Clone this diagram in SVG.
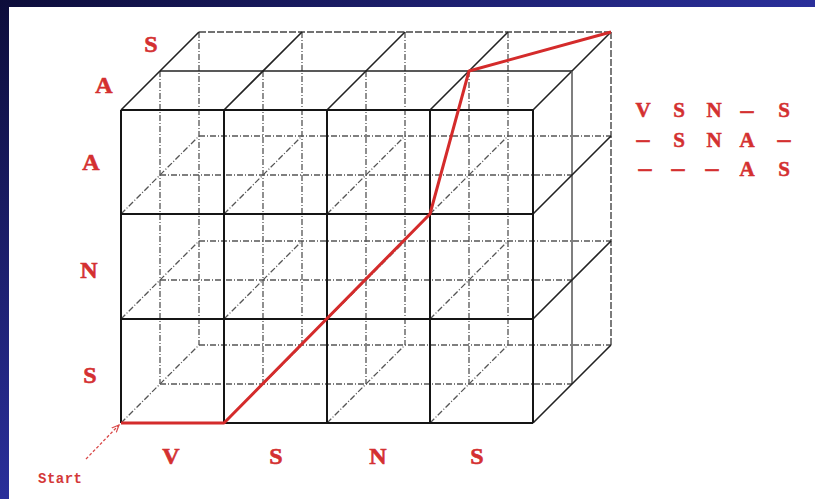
<svg xmlns="http://www.w3.org/2000/svg" width="815" height="499" viewBox="0 0 815 499">
  <defs>
    <linearGradient id="bg" x1="0" y1="0" x2="1" y2="1">
      <stop offset="0" stop-color="#0d0d3a"/>
      <stop offset="0.5" stop-color="#2a2f9a"/>
      <stop offset="1" stop-color="#4a50d8"/>
    </linearGradient>
    <marker id="arr" viewBox="0 0 10 10" refX="9" refY="5" markerWidth="8" markerHeight="8" orient="auto" markerUnits="userSpaceOnUse">
      <path d="M0,1 L9,5 L0,9" fill="none" stroke="#d94848" stroke-width="1.5"/>
    </marker>
    <style>
      .front { stroke: #151515; stroke-width: 2; fill: none; }
      .edge { stroke: #222; stroke-width: 1.6; fill: none; }
      .edge2 { stroke: #555; stroke-width: 1.5; fill: none; }
      .back { stroke: #444; stroke-width: 1.4; fill: none; stroke-dasharray: 7 2; }
      .hid { stroke: #555; stroke-width: 1.3; fill: none; stroke-dasharray: 6 2 1 2; }
      .path { stroke: #d42b2b; stroke-width: 3; fill: none; stroke-linejoin: round; }
      .lbl { font-family: "Liberation Serif", "Times New Roman", serif; font-weight: bold; font-size: 24px; fill: #d43030; text-anchor: middle; stroke: #d43030; stroke-width: 0.6; }
      .tbl { font-family: "Liberation Serif", "Times New Roman", serif; font-weight: bold; font-size: 21px; fill: #d43030; text-anchor: middle; stroke: #d43030; stroke-width: 0.5; }
      .dash { font-size: 26px; }
      .start { font-family: "Liberation Mono", "Courier New", monospace; font-weight: bold; font-size: 14px; fill: #d43838; letter-spacing: 0.5px; }
    </style>
  </defs>

  <rect x="0" y="0" width="815" height="499" fill="url(#bg)"/>
  <rect x="9" y="7" width="806" height="492" fill="#ffffff"/>

  <!-- hidden (interior) lines -->
  <g id="hidden">
    <path class="hid" d="M160,71 V384 M263,71 V384 M366,71 V384 M469,71 V384"/>
    <path class="hid" d="M160,175 H572 M160,280 H572 M160,384 H572"/>
    <path class="hid" d="M199,32 V345 M302,32 V345 M405,32 V345 M508,32 V345"/>
    <path class="hid" d="M199,136 H611 M199,241 H611 M199,345 H611"/>
    <path class="hid" d="M121,214 L199,136 M224,214 L302,136 M327,214 L405,136 M430,214 L508,136
                         M121,319 L199,241 M224,319 L302,241 M327,319 L405,241 M430,319 L508,241
                         M121,423 L199,345 M224,423 L302,345 M327,423 L405,345 M430,423 L508,345"/>
  </g>

  <!-- visible outer edges -->
  <g id="top-face">
    <path class="back" d="M199,32 H611"/>
    <path class="edge" d="M160,71 H572"/>
    <path class="edge" d="M121,110 L199,32 M224,110 L302,32 M327,110 L405,32 M430,110 L508,32 M533,110 L611,32"/>
  </g>
  <g id="right-face">
    <path class="edge2" d="M572,71 V384"/>
    <path class="back" d="M611,32 V345"/>
    <path class="edge" d="M533,214 L611,136 M533,319 L611,241 M533,423 L611,345"/>
  </g>
  <g id="front-face">
    <path class="front" d="M121,110 V423 M224,110 V423 M327,110 V423 M430,110 V423 M533,110 V423"/>
    <path class="front" d="M121,110 H533 M121,214 H533 M121,319 H533 M121,423 H533"/>
  </g>

  <!-- red path -->
  <g id="connectors">
    <path class="path" d="M121,423 L224,423 L430,214 L469,71 L611,32"/>
    <line x1="86" y1="459" x2="119" y2="425" stroke="#d94848" stroke-width="1.3" stroke-dasharray="3 2" marker-end="url(#arr)"/>
  </g>

  <!-- labels -->
  <g id="labels">
    <text class="lbl" x="151" y="52">S</text>
    <text class="lbl" x="104" y="93">A</text>
    <text class="lbl" x="91" y="170">A</text>
    <text class="lbl" x="89" y="278">N</text>
    <text class="lbl" x="90" y="383">S</text>
    <text class="lbl" x="171" y="464">V</text>
    <text class="lbl" x="276" y="464">S</text>
    <text class="lbl" x="378" y="464">N</text>
    <text class="lbl" x="477" y="464">S</text>
    <text class="start" x="38" y="483">Start</text>
  </g>

  <g id="table">
    <text class="tbl" x="643" y="117">V</text>
    <text class="tbl" x="679" y="117">S</text>
    <text class="tbl" x="714" y="117">N</text>
    <text class="tbl dash" x="747" y="118">–</text>
    <text class="tbl" x="784" y="117">S</text>

    <text class="tbl dash" x="643" y="147">–</text>
    <text class="tbl" x="679" y="147">S</text>
    <text class="tbl" x="714" y="147">N</text>
    <text class="tbl" x="747" y="147">A</text>
    <text class="tbl dash" x="784" y="147">–</text>

    <text class="tbl dash" x="645" y="176">–</text>
    <text class="tbl dash" x="678" y="176">–</text>
    <text class="tbl dash" x="712" y="176">–</text>
    <text class="tbl" x="747" y="176">A</text>
    <text class="tbl" x="784" y="176">S</text>
  </g>
</svg>
